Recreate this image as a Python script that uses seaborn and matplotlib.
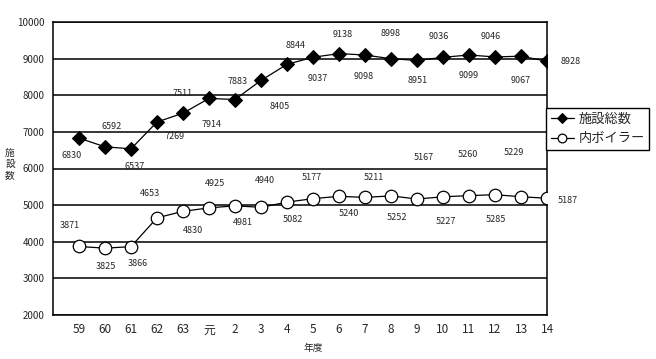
import matplotlib
matplotlib.use("Agg")
import matplotlib.pyplot as plt
import seaborn as sns
import pandas as pd

# 年度 (昭和59 ... 平成14)
years = ["59", "60", "61", "62", "63", "元", "2", "3", "4", "5", "6", "7",
         "8", "9", "10", "11", "12", "13", "14"]
total = [6830, 6592, 6537, 7269, 7511, 7914, 7883, 8405, 8844, 9037, 9138,
         9098, 8998, 8951, 9036, 9099, 9046, 9067, 8928]
boiler = [3871, 3825, 3866, 4653, 4830, 4925, 4981, 4940, 5082, 5177, 5240,
          5211, 5252, 5167, 5227, 5260, 5285, 5229, 5187]

# label offsets in pixels (dx, dy with y pointing up)
total_off = [(-7, -17), (7, 20), (4, -18), (18, -14), (0, 20), (3, -26), (3, 18),
             (19, -26), (9, 19), (5, -21), (4, 19), (-1, -21), (0, 25), (1, -20),
             (-4, 21), (0, -21), (-4, 20), (0, -24), (24, 0)]
boiler_off = [(-9, 21), (1, -18), (7, -17), (-7, 24), (10, -19), (6, 24), (8, -17),
              (4, 27), (6, -17), (-1, 21), (10, -17), (9, 20), (6, -22), (7, 42),
              (3, -25), (-1, 41), (1, -25), (-7, 44), (21, -2)]

df = pd.DataFrame({"pos": list(range(len(years))), "total": total, "boiler": boiler})

sns.set_style("white")
plt.rcParams["font.family"] = ["Noto Sans CJK JP", "DejaVu Sans"]

fig = plt.figure(figsize=(6.56, 3.59), dpi=100)
ax = fig.add_axes([53 / 656, 1 - 315 / 359, (547 - 53) / 656, (315 - 22) / 359])

sns.lineplot(data=df, x="pos", y="total", ax=ax, color="black", lw=0.9,
             marker="D", markersize=7.5, markerfacecolor="black",
             markeredgecolor="black", label="施設総数", zorder=3)
sns.lineplot(data=df, x="pos", y="boiler", ax=ax, color="black", lw=0.9,
             marker="o", markersize=9, markerfacecolor="white",
             markeredgecolor="black", markeredgewidth=0.9, label="内ボイラー", zorder=3)

for i in range(len(years)):
    ax.annotate(str(total[i]), (i, total[i]), xytext=total_off[i],
                textcoords="offset pixels", ha="center", va="center", fontsize=6.5)
    ax.annotate(str(boiler[i]), (i, boiler[i]), xytext=boiler_off[i],
                textcoords="offset pixels", ha="center", va="center", fontsize=6.5)

ax.set_xlim(-1, len(years) - 1)
ax.set_ylim(2000, 10000)
ax.set_yticks(range(2000, 10001, 1000))
ax.set_xticks(range(len(years)))
ax.set_xticklabels(years, fontsize=8.5)
ax.tick_params(axis="y", labelsize=7, length=3, direction="out", color="black", pad=3)
ax.tick_params(axis="x", length=3, direction="in", color="black", pad=6)
ax.yaxis.grid(True, color="black", lw=1.1)
ax.set_axisbelow(True)
for s in ax.spines.values():
    s.set_color("black")
    s.set_linewidth(1.1)
ax.set_xlabel("")
ax.set_ylabel("")

fig.text(313 / 656, 1 - 348 / 359, "年度", ha="center", va="center", fontsize=7)
fig.text(10 / 656, 1 - 164 / 359, "施\n設\n数", ha="center", va="center",
         fontsize=7, linespacing=1.1)

ax.get_legend().remove()
h, l = ax.get_legend_handles_labels()
leg = fig.legend(h, l, loc="upper left", bbox_to_anchor=(546 / 656, 1 - 108 / 359),
                 fontsize=9.5, frameon=True, fancybox=False, edgecolor="black",
                 framealpha=1, handlelength=1.8, handletextpad=0.3,
                 borderpad=0.35, labelspacing=0.5, borderaxespad=0, markerscale=0.7)
leg.get_frame().set_linewidth(1.0)

fig.savefig("out.png", dpi=100)
